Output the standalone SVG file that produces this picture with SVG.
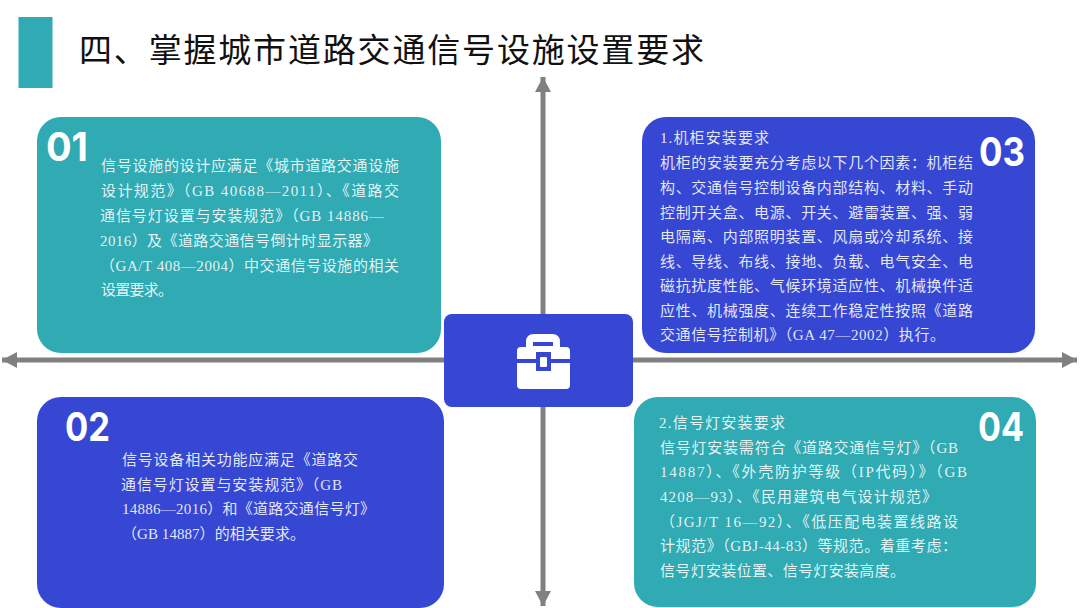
<svg xmlns="http://www.w3.org/2000/svg" width="1080" height="608" viewBox="0 0 1080 608">
<style>
.teal{fill:#30aab3}
.blue{fill:#3647d4}
.body{font-family:"Liberation Serif","Noto Sans CJK SC",serif;font-size:15px;fill:#fff;fill-opacity:.88}
.num{font-family:"Inter","Liberation Sans",sans-serif;font-size:40px;font-weight:700;fill:#fff}
.title{font-family:"Noto Sans CJK SC",sans-serif;font-size:33px;fill:#111}
.axis{stroke:#808080;stroke-width:5;fill:none;marker-end:url(#arrow)}
</style>
<defs>
<marker id="arrow" markerUnits="userSpaceOnUse" markerWidth="16" markerHeight="16" refX="15" refY="8" orient="auto"><path d="M0 0L15 8L0 16Z" fill="#808080"/></marker>
</defs>
<rect width="1080" height="608" fill="#fff"/>
<g id="header">
<rect class="teal" x="18.5" y="17" width="34" height="71"/>
<text class="title" x="79" y="62" textLength="625" lengthAdjust="spacing">四、掌握城市道路交通信号设施设置要求</text>
</g>
<g id="connectors">
<line class="axis" x1="543" y1="360" x2="543" y2="77"/>
<line class="axis" x1="543" y1="360" x2="543" y2="606"/>
<line class="axis" x1="543" y1="360" x2="2" y2="360"/>
<line class="axis" x1="543" y1="360" x2="1077" y2="360"/>
</g>
<g id="node-01">
<rect class="teal" x="37" y="117" width="404" height="236" rx="24"/>
<text class="num" x="46" y="161" textLength="42" lengthAdjust="spacingAndGlyphs">01</text>
<text class="body" x="101" y="171" textLength="298" lengthAdjust="spacing">信号设施的设计应满足《城市道路交通设施</text>
<text class="body" x="101" y="196" textLength="298" lengthAdjust="spacing">设计规范》（GB 40688—2011）、《道路交</text>
<text class="body" x="100" y="221" textLength="284" lengthAdjust="spacing">通信号灯设置与安装规范》（GB 14886—</text>
<text class="body" x="100" y="246" textLength="278" lengthAdjust="spacing">2016）及《道路交通信号倒计时显示器》</text>
<text class="body" x="100" y="271" textLength="299" lengthAdjust="spacing">（GA/T 408—2004）中交通信号设施的相关</text>
<text class="body" x="101" y="295" textLength="72" lengthAdjust="spacing">设置要求。</text>
</g>
<g id="node-02">
<rect class="blue" x="37" y="397" width="407" height="211" rx="24"/>
<text class="num" x="65" y="441" textLength="45" lengthAdjust="spacingAndGlyphs">02</text>
<text class="body" x="122" y="465" textLength="236" lengthAdjust="spacing">信号设备相关功能应满足《道路交</text>
<text class="body" x="121" y="490" textLength="221" lengthAdjust="spacing">通信号灯设置与安装规范》（GB</text>
<text class="body" x="122" y="514" textLength="253" lengthAdjust="spacing">14886—2016）和《道路交通信号灯》</text>
<text class="body" x="122" y="539" textLength="183" lengthAdjust="spacing">（GB 14887）的相关要求。</text>
</g>
<g id="node-03">
<rect class="blue" x="642" y="117" width="393" height="236" rx="24"/>
<text class="num" x="979" y="166" textLength="46" lengthAdjust="spacingAndGlyphs">03</text>
<text class="body" x="660" y="143" textLength="109" lengthAdjust="spacing">1.机柜安装要求</text>
<text class="body" x="660" y="168" textLength="313" lengthAdjust="spacing">机柜的安装要充分考虑以下几个因素：机柜结</text>
<text class="body" x="660" y="193" textLength="313" lengthAdjust="spacing">构、交通信号控制设备内部结构、材料、手动</text>
<text class="body" x="660" y="218" textLength="313" lengthAdjust="spacing">控制开关盒、电源、开关、避雷装置、强、弱</text>
<text class="body" x="660" y="242" textLength="313" lengthAdjust="spacing">电隔离、内部照明装置、风扇或冷却系统、接</text>
<text class="body" x="660" y="267" textLength="313" lengthAdjust="spacing">线、导线、布线、接地、负载、电气安全、电</text>
<text class="body" x="660" y="291" textLength="313" lengthAdjust="spacing">磁抗扰度性能、气候环境适应性、机械换件适</text>
<text class="body" x="660" y="316" textLength="313" lengthAdjust="spacing">应性、机械强度、连续工作稳定性按照《道路</text>
<text class="body" x="660" y="340" textLength="285" lengthAdjust="spacing">交通信号控制机》（GA 47—2002）执行。</text>
</g>
<g id="node-04">
<rect class="teal" x="634" y="397" width="402" height="210" rx="24"/>
<text class="num" x="978" y="441" textLength="46" lengthAdjust="spacingAndGlyphs">04</text>
<text class="body" x="659" y="428" textLength="126" lengthAdjust="spacing">2.信号灯安装要求</text>
<text class="body" x="660" y="453" textLength="298" lengthAdjust="spacing">信号灯安装需符合《道路交通信号灯》（GB</text>
<text class="body" x="660" y="477" textLength="307" lengthAdjust="spacing">14887）、《外壳防护等级（IP代码）》（GB</text>
<text class="body" x="660" y="502" textLength="277" lengthAdjust="spacing">4208—93）、《民用建筑电气设计规范》</text>
<text class="body" x="660" y="527" textLength="298" lengthAdjust="spacing">（JGJ/T 16—92）、《低压配电装置线路设</text>
<text class="body" x="660" y="551" textLength="297" lengthAdjust="spacing">计规范》（GBJ-44-83）等规范。着重考虑：</text>
<text class="body" x="660" y="576" textLength="245" lengthAdjust="spacing">信号灯安装位置、信号灯安装高度。</text>
</g>
<g id="node-center">
<rect class="blue" x="444" y="314" width="189" height="93" rx="8"/>
<path fill="#fff" fill-rule="evenodd" d="M526 347V342Q526 334 534 334H552Q560 334 560 342V347H566Q570 347 570 351V359H551V352H536V359H517V351Q517 347 521 347ZM533 342V346H553V342Z"/>
<path fill="#fff" d="M517 363H536V371H551V363H570V385Q570 389 566 389H521Q517 389 517 385Z"/>
<rect fill="#fff" x="540" y="357" width="7" height="10" rx="1"/>
</g>
</svg>
